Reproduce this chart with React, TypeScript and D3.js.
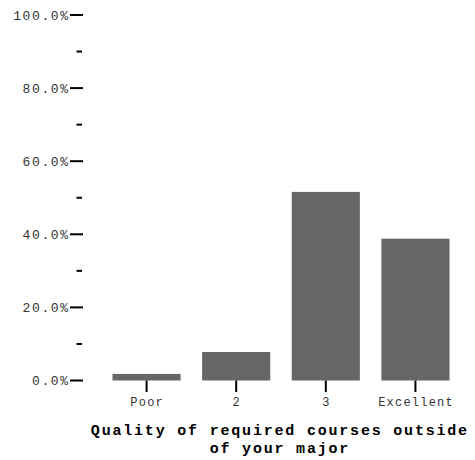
import React from "react";
import * as d3 from "d3";

const categories = ["Poor", "2", "3", "Excellent"];
const values = [0.018, 0.078, 0.516, 0.388];
const majorTicks = [0, 0.2, 0.4, 0.6, 0.8, 1.0];
const minorTicks = [0.1, 0.3, 0.5, 0.7, 0.9];
const titleLines = ["Quality of required courses outside", "of your major"];

const W = 475;
const H = 460;
const FONT = "'Liberation Mono', 'DejaVu Sans Mono', monospace";

export default function App() {
  const y = d3.scaleLinear().domain([0, 1]).range([380.5, 15]);
  const x = d3.scaleBand<string>().domain(categories).range([91, 471]).padding(0.24);
  const fmt = d3.format(".1%");
  const yls = 1.6;
  const xls = 1.2;
  const tls = 1.8;
  const titleY = [435, 452.5];

  return (
    <svg width={W} height={H} style={{ position: "absolute", left: 0, top: 0, background: "#fff" }}>
      {values.map((v, i) => (
        <rect
          key={categories[i]}
          x={x(categories[i])}
          y={y(v)}
          width={x.bandwidth()}
          height={y(0) - y(v)}
          fill="#666666"
        />
      ))}
      {majorTicks.map((t) => (
        <g key={"M" + t}>
          <line x1={70} x2={83} y1={y(t)} y2={y(t)} stroke="#000" strokeWidth={2} />
          <text
            x={68 + yls}
            y={y(t)}
            dy="0.35em"
            textAnchor="end"
            fontFamily={FONT}
            fontSize={13}
            letterSpacing={yls}
            fill="#333"
          >
            {fmt(t)}
          </text>
        </g>
      ))}
      {minorTicks.map((t) => (
        <line key={"m" + t} x1={76.5} x2={82} y1={y(t)} y2={y(t)} stroke="#000" strokeWidth={2} />
      ))}
      {categories.map((c) => {
        const cx = (x(c) as number) + x.bandwidth() / 2;
        return (
          <g key={"x" + c}>
            <line x1={cx} x2={cx} y1={380.5} y2={392} stroke="#000" strokeWidth={2} />
            <text
              x={cx + xls / 2}
              y={405.5}
              textAnchor="middle"
              fontFamily={FONT}
              fontSize={12}
              letterSpacing={xls}
              fill="#333"
            >
              {c}
            </text>
          </g>
        );
      })}
      {titleLines.map((l, i) => (
        <text
          key={l}
          x={279 + tls / 2}
          y={titleY[i]}
          textAnchor="middle"
          fontFamily={FONT}
          fontSize={15}
          letterSpacing={tls}
          fontWeight="bold"
          fill="#000"
        >
          {l}
        </text>
      ))}
    </svg>
  );
}
